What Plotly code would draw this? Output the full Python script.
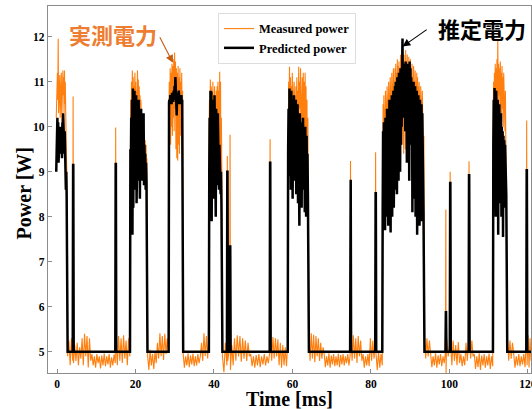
import numpy as np
import plotly.graph_objects as go

# ---------------- data ----------------
# Predicted power (black) bursts
pred_b1 = [9.0, 9.9, 9.3, 10.2, 9.6, 10.1, 9.2, 9.9, 9.5, 10.0, 9.7, 9.4, 10.0, 9.6, 9.8, 9.3,
           10.1, 9.5, 10.3, 9.7, 10.25, 9.4, 9.9, 9.0, 9.6, 8.6, 9.0, 8.5]
pred_b2 = [9.5, 8.8, 10.2, 9.0, 10.6, 7.6, 10.85, 8.2, 10.4, 9.1, 10.8, 8.6, 10.2, 9.4, 10.7, 8.3,
           10.0, 9.2, 10.5, 8.8, 10.6, 9.6, 10.3, 8.4, 9.8, 9.0, 10.4, 8.8, 10.1, 9.3, 9.9, 8.9,
           10.3, 8.7, 9.6, 9.0, 9.4, 8.6, 9.2, 8.8]
pred_b3 = [10.55, 10.6, 10.5, 10.7, 10.55, 10.65, 10.5, 10.75, 10.6, 10.7, 10.55, 10.8, 10.6,
           10.9, 10.7, 11.1, 10.8, 10.95, 10.25, 10.7, 10.5, 10.75, 10.6, 10.8, 10.55, 10.7,
           10.5, 10.65, 10.6, 10.7, 10.55, 10.6]
pred_b4 = [9.0, 10.2, 8.6, 10.8, 9.4, 10.78, 7.9, 10.5, 9.0, 10.6, 8.4, 10.3, 9.5, 10.7, 8.9,
           10.2, 8.0, 10.4, 9.2, 10.0, 8.7, 10.3, 9.4, 9.8, 8.6, 9.6, 8.8, 9.2, 8.5, 9.0, 8.3]
pred_b5 = [9.5, 10.4, 8.9, 10.85, 9.3, 10.7, 8.6, 10.8, 9.8, 10.6, 8.4, 10.5, 9.1, 10.7, 8.8,
           10.3, 9.6, 10.6, 8.5, 10.4, 9.2, 10.5, 8.3, 10.2, 9.0, 7.8, 10.3, 8.6, 10.0, 9.3, 8.2,
           10.1, 8.9, 10.2, 9.4, 8.6, 9.9, 8.1, 10.0, 9.0, 8.0, 9.8, 8.7, 9.4, 8.4]
pred_b6 = [8.2, 9.9, 7.9, 10.1, 8.6, 9.7, 7.7, 10.2, 8.3, 10.0, 8.0, 10.4, 8.8, 9.8, 7.8, 10.3,
           8.5, 10.6, 8.1, 10.2, 7.65, 10.5, 8.4, 10.7, 8.0, 10.4, 8.7, 10.8, 8.2, 10.6,
           9.0, 10.9, 8.6, 11.0, 9.3, 10.8, 8.5, 11.1, 9.2, 10.7, 8.8, 11.2, 9.4, 11.0, 9.0,
           11.3, 9.6, 11.1, 10.0, 11.3,
           11.96, 10.4, 11.3, 10.2,
           11.4, 10.3, 11.2, 9.9, 11.45, 10.5, 11.3, 9.2, 11.4, 10.1, 11.35, 10.6, 11.2, 8.8,
           11.45, 10.2, 11.3, 9.6, 11.1, 10.4, 11.0,
           8.1, 10.9, 9.0, 11.0, 8.4, 10.8, 9.3, 10.9, 8.0, 10.7, 8.8, 10.8, 7.6, 10.6, 9.1,
           10.7, 8.3, 10.5, 7.8, 10.6, 8.9, 10.4, 8.2, 10.5, 7.9, 10.3, 8.6, 10.0, 8.1]
pred_b7 = [9.6, 10.6, 8.4, 10.86, 9.0, 10.7, 8.0, 10.8, 9.4, 10.5, 8.6, 10.6, 7.6, 10.4, 9.1,
           10.5, 8.3, 10.2, 9.5, 10.3, 8.0, 10.0, 8.8, 9.9, 7.55, 9.8, 8.6, 9.7, 8.2, 9.6, 8.9,
           9.4, 8.5]
pred_low = 5.0
# isolated predicted spikes: time [ms], peak [W]
pred_spike_t = [4.1, 14.95, 43.4, 44.1, 54.3, 74.8, 81.2, 99.1, 100.2, 105.0, 119.7]
pred_spike_v = [9.15, 9.17, 9.0, 7.34, 9.2, 8.82, 8.52, 5.88, 8.75, 8.92, 9.03]
# burst start / end times [ms]
burst_start = [-0.2, 18.7, 28.55, 38.8, 58.9, 83.0, 111.2]
burst_end = [2.45, 22.8, 31.9, 41.9, 63.95, 93.4, 114.5]

# Measured power (orange) bursts
meas_b1 = [10.2, 11.1, 10.4, 11.2, 10.6, 11.95, 10.3, 11.0, 10.5, 11.15, 10.2, 10.9, 10.6, 11.2,
           10.1, 10.8, 10.4, 11.25, 10.7, 11.1, 10.3, 11.25, 10.5, 11.0, 9.9, 10.4, 9.3, 9.0]
meas_b2 = [10.0, 10.6, 9.8, 11.0, 10.2, 11.25, 10.5, 11.1, 10.3, 10.9, 10.6, 11.2, 10.4, 11.0,
           10.2, 10.8, 10.5, 11.25, 10.3, 11.05, 10.1, 10.9, 10.4, 10.7, 10.0, 10.6, 9.8, 10.4,
           9.6, 10.2, 9.5, 10.0, 9.3, 9.8, 9.4, 9.7, 9.2, 9.6, 9.0, 9.3]
meas_b3 = [10.3, 11.0, 9.7, 11.3, 9.6, 11.2, 10.0, 11.4, 9.8, 11.35, 10.2, 11.5, 9.9, 11.65, 10.4,
           11.45, 9.5, 11.3, 9.3, 11.2, 9.25, 11.35, 9.6, 11.1, 9.4, 11.3, 9.8, 11.0, 10.2, 11.2,
           10.0, 10.8]
meas_b4 = [10.0, 10.6, 9.8, 11.05, 10.2, 10.9, 10.4, 10.8, 10.0, 11.0, 9.9, 10.7, 10.3, 10.9, 10.1,
           10.6, 9.8, 10.8, 10.2, 10.9, 10.0, 11.0, 9.6, 10.8, 9.4, 11.22, 9.2, 11.0, 9.0, 10.2, 8.9]
meas_b5 = [10.2, 11.0, 10.5, 11.33, 10.3, 11.1, 10.6, 10.9, 10.2, 11.2, 10.4, 10.8, 10.1, 11.0,
           10.5, 10.7, 10.0, 10.9, 10.3, 11.1, 10.2, 10.8, 9.9, 11.33, 10.4, 11.0, 10.1, 11.3,
           10.2, 10.9, 9.8, 11.1, 10.0, 11.2, 9.6, 11.0, 9.4, 11.2, 9.2, 10.9, 9.0, 10.6, 8.8,
           10.2, 8.7]
meas_b6 = [9.8, 10.5, 9.6, 10.7, 9.9, 10.4, 9.7, 10.8, 10.0, 10.6, 9.8, 10.9, 10.1, 10.7, 9.9,
           11.0, 10.2, 10.8, 10.0, 11.1, 10.3, 10.9, 10.1, 11.2, 10.4, 11.0, 10.2, 11.3, 10.5, 11.1,
           9.6, 11.3, 9.9, 11.4, 9.45, 11.2, 10.2, 11.5, 9.7, 11.35, 9.4, 11.45, 10.0, 11.3, 9.5,
           11.6, 9.8, 11.4, 10.1, 11.7,
           11.75, 9.6, 11.5, 9.4, 11.6, 9.9, 11.45, 9.5, 11.7, 9.8, 11.5, 9.45, 11.6, 10.0, 11.4,
           9.6, 11.55, 10.2, 11.35, 9.9, 11.5, 10.4, 11.3, 10.1, 11.4,
           10.3, 11.2, 10.0, 11.35, 10.4, 11.1, 9.9, 11.25, 10.2, 11.0, 10.5, 11.2, 10.0, 11.1,
           10.3, 10.9, 9.8, 11.0, 10.2, 10.8, 9.9, 10.9, 10.1, 10.7, 9.7, 10.8, 9.5, 10.4, 9.2, 9.8]
meas_b7 = [10.0, 11.0, 10.3, 11.2, 10.1, 11.4, 10.5, 11.3, 10.2, 11.5, 10.6, 11.93, 10.4, 11.4,
           10.7, 11.3, 10.3, 11.45, 10.5, 11.2, 10.1, 11.35, 10.4, 11.1, 10.0, 11.2, 10.2, 10.9,
           9.9, 10.8, 9.6, 10.5, 9.3]

# Measured power between bursts (idle noise)
meas_l1 = [4.9, 5.25, 4.7, 5.3, 4.8]
meas_l2 = [4.75, 5.15, 4.8, 5.2, 4.7, 5.1, 4.85,
           5.3, 4.7, 5.4, 4.9, 5.35, 4.65, 5.3, 4.8,
           4.95, 4.7, 4.9, 4.65, 4.95, 4.75, 4.9, 4.63, 4.92, 4.7, 4.96, 4.68, 4.9, 4.72, 4.95,
           4.65, 4.88, 4.7, 4.94, 4.75]
meas_l3 = [5.2, 4.7, 5.35, 4.8, 5.3, 4.75, 5.37, 4.85, 5.25, 4.7, 5.3, 4.9]
meas_l4 = [4.9, 4.6, 5.05, 4.7, 4.95, 4.62, 5.0, 4.75,
           5.2, 4.85, 5.41, 4.9, 5.35, 4.82, 5.4, 4.95, 5.3, 5.0]
meas_l5 = [4.95, 4.65, 4.9, 4.7, 4.97, 4.66, 4.92, 4.72, 4.96, 4.68, 4.9, 4.7, 4.95, 4.75, 4.9,
           5.2, 4.8, 5.41, 4.9, 5.35, 4.85, 5.3]
meas_l6 = [4.9, 4.55, 5.2, 4.7]
meas_l7 = [4.8, 5.1]
meas_l8 = [4.6, 5.15, 4.7,
           5.3, 4.8, 5.37, 4.9, 5.35, 4.78, 5.3, 4.85, 5.25, 4.8, 5.2, 4.9,
           4.95, 4.68, 4.9, 4.65, 4.93, 4.7, 4.95, 4.66, 4.9, 4.72, 4.95, 4.7, 4.9, 4.75, 4.98]
meas_l9 = [5.25, 4.8, 5.33, 4.85, 5.3, 4.9, 5.28, 4.7, 5.2, 4.65, 5.15, 4.7, 5.1, 4.68, 5.2]
meas_l10 = [5.3, 4.8, 5.41, 4.85, 5.38, 4.77, 5.35, 4.9, 5.3, 4.8, 5.2, 4.85, 5.1,
            4.95, 4.66, 4.9, 4.7, 4.97, 4.65, 4.92, 4.72, 4.95, 4.68, 4.9, 4.7, 4.96, 4.66, 4.93,
            4.72, 4.95, 4.7, 4.9, 4.75, 4.95, 4.7, 4.92]
meas_l11 = [5.3, 4.8, 5.37, 4.85, 5.3, 4.75, 5.35, 4.9, 5.25, 4.8,
            4.95, 4.65, 4.9, 4.7, 4.95, 4.68, 5.3, 4.8, 5.25, 4.85, 5.2]
meas_l12 = [4.95, 4.6, 5.0, 4.65, 4.95, 4.7]
meas_l13 = [5.33, 4.85, 5.3, 4.9, 5.25,
            4.95, 4.66, 4.9, 4.7, 4.97, 4.65, 4.92, 4.72, 4.95, 4.68, 4.9, 4.75, 5.0]
meas_l14 = [5.3, 4.9, 5.2]
meas_l15 = [5.2, 4.7, 5.25, 4.8, 5.15, 4.7, 5.22, 4.75, 4.95, 4.68, 4.9, 4.7, 5.2, 4.8, 5.25]
meas_l16 = [5.3, 4.85, 5.25, 4.9,
            4.95, 4.62, 4.9, 4.66, 4.97, 4.6, 4.92, 4.7, 4.95, 4.65, 4.9, 4.7, 4.96, 4.62, 4.9,
            4.68]
meas_l17 = [5.3, 4.8, 5.25, 4.85, 5.2,
            4.95, 4.65, 4.9, 4.7, 4.95, 4.68, 4.9, 4.72, 4.95, 4.66, 5.3]
meas_l18 = [4.7, 5.37, 4.65, 5.3, 4.8]
# measured spikes (time, value)
meas_spike_t = [4.1, 14.95, 43.4, 44.1, 54.3, 74.8, 81.2, 100.2, 105.0, 119.7]
meas_spike_v = [10.67, 9.98, 9.35, 9.82, 9.72, 9.24, 9.43, 9.0, 9.23, 10.14]
meas_dip_pair = [8.16, 4.53]   # spike at 99.1 ms goes up and then down

x_ticks = [0, 20, 40, 60, 80, 100, 120]
y_ticks = [5, 6, 7, 8, 9, 10, 11, 12]


def build(pieces):
    ts, vs = [], []
    for t0, t1, vals in pieces:
        n = len(vals)
        tt = [t0] if n == 1 else list(np.linspace(t0, t1, n))
        ts.extend(tt)
        vs.extend(vals)
    return ts, vs


# ---- predicted series pieces ----
pb = [pred_b1, pred_b2, pred_b3, pred_b4, pred_b5, pred_b6, pred_b7]
low_flat = [pred_low, pred_low]
ppieces = []
spike_iter = list(zip(pred_spike_t, pred_spike_v))
for i in range(len(pb)):
    ppieces.append((burst_start[i], burst_end[i], pb[i]))
    seg_start = burst_end[i] + 0.25
    seg_end = burst_start[i + 1] - 0.1 if i + 1 < len(pb) else 120.8
    cur = seg_start
    for (st, sv) in spike_iter:
        if seg_start < st < seg_end:
            ppieces.append((cur, st - 0.1, low_flat))
            ppieces.append((st, st + 0.05, [sv, sv]))
            cur = st + 0.15
    ppieces.append((cur, seg_end, low_flat))
pred_t, pred_v = build(ppieces)

# ---- measured series pieces ----
mpieces = [
    (-0.2, 2.5, meas_b1),
    (2.7, 4.0, meas_l1), (4.1, 4.1, [meas_spike_v[0]]),
    (4.2, 14.85, meas_l2), (14.95, 14.95, [meas_spike_v[1]]),
    (15.05, 18.55, meas_l3),
    (18.65, 22.9, meas_b2),
    (23.1, 28.4, meas_l4),
    (28.5, 32.0, meas_b3),
    (32.15, 38.7, meas_l5),
    (38.75, 42.0, meas_b4),
    (42.15, 43.3, meas_l6), (43.4, 43.4, [meas_spike_v[2]]),
    (43.5, 44.0, meas_l7), (44.1, 44.1, [meas_spike_v[3]]),
    (44.2, 54.2, meas_l8), (54.3, 54.3, [meas_spike_v[4]]),
    (54.4, 58.8, meas_l9),
    (58.9, 64.05, meas_b5),
    (64.2, 74.7, meas_l10), (74.8, 74.8, [meas_spike_v[5]]),
    (74.9, 81.1, meas_l11), (81.2, 81.2, [meas_spike_v[6]]),
    (81.3, 82.9, meas_l12),
    (83.0, 93.5, meas_b6),
    (93.65, 99.0, meas_l13), (99.1, 99.15, meas_dip_pair),
    (99.3, 100.1, meas_l14), (100.2, 100.2, [meas_spike_v[7]]),
    (100.3, 104.9, meas_l15), (105.0, 105.0, [meas_spike_v[8]]),
    (105.1, 111.05, meas_l16),
    (111.15, 114.6, meas_b7),
    (114.8, 119.6, meas_l17), (119.7, 119.7, [meas_spike_v[9]]),
    (119.8, 120.8, meas_l18),
]
meas_t, meas_v = build(mpieces)

# ---------------- figure ----------------
SERIF = "Liberation Serif"
CJK = "Noto Sans CJK JP"

fig = go.Figure()
fig.add_trace(go.Scatter(x=meas_t, y=meas_v, mode="lines", name="Measured power",
                         line=dict(color="#FF7F0E", width=1.1)))
fig.add_trace(go.Scatter(x=pred_t, y=pred_v, mode="lines", name="Predicted power",
                         line=dict(color="#000000", width=2.5)))

axis_common = dict(showline=True, mirror=True, linecolor="#8c8c8c", linewidth=1.2,
                   ticks="inside", ticklen=4, tickwidth=1, tickcolor="#8c8c8c",
                   showgrid=False, zeroline=False, automargin=False,
                   ticklabeloverflow="allow",
                   tickfont=dict(family=SERIF, size=11.5, color="#000000", weight="bold"))
fig.update_xaxes(range=[-2.3, 120.8], tickvals=x_ticks, **axis_common)
fig.update_yaxes(range=[4.53, 12.68], tickvals=y_ticks, **axis_common)

fig.update_layout(
    width=532, height=409,
    margin=dict(l=48, r=1, t=6, b=36, autoexpand=False),
    paper_bgcolor="white", plot_bgcolor="white",
    legend=dict(x=0.352, y=0.981, xanchor="left", yanchor="top",
                bgcolor="white", bordercolor="#dddddd", borderwidth=1,
                font=dict(family=SERIF, size=12.5, color="#000000", weight="bold")),
    annotations=[
        dict(text="Time [ms]", xref="paper", yref="paper", x=0.5, y=-0.07,
             xanchor="center", yanchor="middle", showarrow=False,
             font=dict(family=SERIF, size=20, color="#000000", weight="bold")),
        dict(text="Power [W]", xref="paper", yref="paper", x=-0.05, y=0.489,
             xanchor="center", yanchor="middle", showarrow=False, textangle=-90,
             font=dict(family=SERIF, size=20, color="#000000", weight="bold")),
        dict(text="実測電力", xref="x", yref="y", x=14.3, y=12.06, showarrow=False,
             xanchor="center", yanchor="middle",
             font=dict(family=CJK, size=22, color="#ED7D31", weight="bold")),
        dict(text="推定電力", xref="x", yref="y", x=108.3, y=12.19, showarrow=False,
             xanchor="center", yanchor="middle",
             font=dict(family=CJK, size=22, color="#000000", weight="bold")),
        dict(text="", xref="x", yref="y", x=29.55, y=11.42, axref="x", ayref="y",
             ax=26.0, ay=12.02, showarrow=True, arrowhead=2, arrowsize=1.4,
             arrowwidth=1.1, arrowcolor="#C55A11"),
        dict(text="", xref="x", yref="y", x=88.08, y=11.78, axref="x", ayref="y",
             ax=94.6, ay=12.18, showarrow=True, arrowhead=2, arrowsize=1.4,
             arrowwidth=1.1, arrowcolor="#000000"),
    ],
)

fig.write_html("out.html", config={"displayModeBar": False},
               post_script="document.body.style.margin='0';document.body.style.overflow='hidden';")
